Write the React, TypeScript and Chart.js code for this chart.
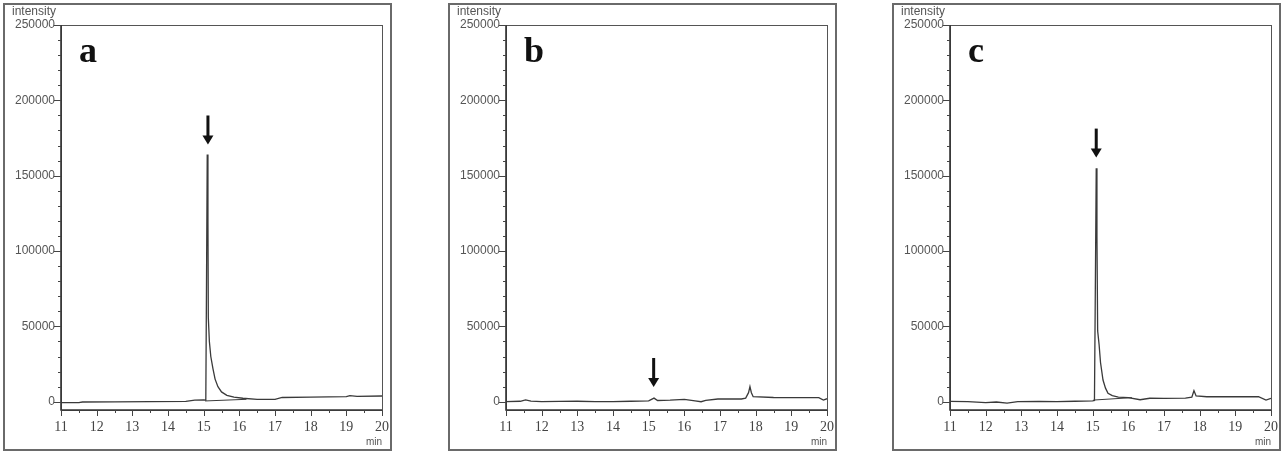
import React, { useEffect, useRef } from "react";
import { Chart, registerables } from "chart.js";

Chart.register(...registerables);

// ---- axis ticks ----
const xTickValues = [11, 11.5, 12, 12.5, 13, 13.5, 14, 14.5, 15, 15.5, 16, 16.5, 17, 17.5, 18, 18.5, 19, 19.5, 20];
const yTickValues = [
  0, 10000, 20000, 30000, 40000, 50000, 60000, 70000, 80000, 90000, 100000,
  110000, 120000, 130000, 140000, 150000, 160000, 170000, 180000, 190000, 200000,
  210000, 220000, 230000, 240000, 250000,
];
const yLabelStep = 50000;
const xMin = 11;
const xMax = 20;
const yMin = -5500;
const yMax = 250000;

// ---- panel a ----
const timeA = [11, 11.5, 11.6, 12.5, 13.5, 14.5, 14.75, 15.0, 15.06, 15.08, 15.1, 15.12, 15.13, 15.16, 15.2, 15.26, 15.32, 15.4, 15.5, 15.65, 15.85, 16.1, 16.5, 17.0, 17.2, 18.0, 19.0, 19.1, 19.3, 20];
const intensityA = [-600, -600, -200, -100, 0, 200, 1000, 1200, 1000, 80000, 164000, 120000, 56000, 40000, 30000, 22000, 15000, 10000, 6500, 4200, 3000, 2300, 1600, 1600, 2800, 3000, 3400, 4000, 3500, 3800];
const baseTimeA = [15.04, 16.2];
const baseIntA = [500, 1600];

// ---- panel b ----
const timeB = [11, 11.4, 11.55, 11.7, 12.0, 12.5, 13.0, 13.5, 14.0, 14.5, 15.0, 15.15, 15.25, 15.6, 16.0, 16.3, 16.47, 16.6, 16.94, 17.6, 17.72, 17.8, 17.84, 17.88, 17.93, 18.5, 19.77, 19.9, 20];
const intensityB = [0, 300, 1200, 400, 0, 200, 300, 100, 0, 300, 600, 2400, 800, 1000, 1500, 600, 0, 900, 1800, 1800, 2400, 6000, 10000, 6000, 3300, 2800, 2700, 1100, 2000];
const baseTimeB: number[] = [];
const baseIntB: number[] = [];

// ---- panel c ----
const timeC = [11, 11.5, 12.0, 12.3, 12.6, 12.9, 13.5, 14.0, 14.5, 15.0, 15.05, 15.07, 15.1, 15.12, 15.14, 15.18, 15.22, 15.29, 15.36, 15.43, 15.55, 15.72, 16.0, 16.33, 16.6, 17.0, 17.6, 17.78, 17.84, 17.9, 18.2, 19.65, 19.86, 20];
const intensityC = [200, 0, -600, -200, -900, 0, 200, 0, 300, 600, 800, 60000, 155000, 110000, 47000, 38000, 26000, 14400, 9000, 5600, 4000, 3000, 2700, 1300, 2300, 2200, 2400, 3000, 7300, 3800, 3300, 3300, 1100, 2200];
const baseTimeC = [15.02, 16.1];
const baseIntC = [1100, 2700];

// ---- annotations ----
const panelLetters = ["a", "b", "c"];
const arrowTimes = [15.12, 15.14, 15.1];
const arrowTips = [170700, 9770, 162000];
const yAxisTitle = "intensity";
const xAxisTitle = "min";

const panelTimes = [timeA, timeB, timeC];
const panelIntensities = [intensityA, intensityB, intensityC];
const panelBaseTimes = [baseTimeA, baseTimeB, baseTimeC];
const panelBaseInts = [baseIntA, baseIntB, baseIntC];

const PANEL_LEFTS = [3, 448, 892];
const PANEL_TOP = 3;
const PANEL_W = 389;
const PANEL_H = 448;
const BORDER = 2;

const LINE_COLOR = "#3a3a3a";

const decorPlugin = {
  id: "decor",
  afterDraw(chart: any, _args: any, opts: any) {
    const { ctx, chartArea: ca, scales } = chart;
    const xs = scales.x;
    const ys = scales.y;
    ctx.save();

    // plot box
    ctx.strokeStyle = "#555";
    ctx.lineWidth = 1;
    ctx.strokeRect(ca.left + 0.5, ca.top + 0.5, ca.right - ca.left, ca.bottom - ca.top);
    ctx.strokeStyle = "#333";
    ctx.lineWidth = 1.6;
    ctx.beginPath();
    ctx.moveTo(ca.left, ca.top);
    ctx.lineTo(ca.left, ca.bottom);
    ctx.lineTo(ca.right, ca.bottom);
    ctx.stroke();

    // y ticks
    ctx.lineWidth = 1;
    ctx.strokeStyle = "#444";
    ctx.beginPath();
    yTickValues.forEach((v) => {
      const py = Math.round(ys.getPixelForValue(v)) + 0.5;
      const major = v % yLabelStep === 0;
      ctx.moveTo(ca.left - (major ? 7 : 3), py);
      ctx.lineTo(ca.left, py);
    });
    // x ticks
    xTickValues.forEach((v) => {
      const px = Math.round(xs.getPixelForValue(v)) + 0.5;
      const major = Number.isInteger(v);
      ctx.moveTo(px, ca.bottom);
      ctx.lineTo(px, ca.bottom + (major ? 6 : 3));
    });
    ctx.stroke();

    // axis titles
    ctx.fillStyle = "#555";
    ctx.font = "12px 'Liberation Sans'";
    ctx.textAlign = "left";
    ctx.textBaseline = "middle";
    ctx.fillText(yAxisTitle, 7, 7);
    ctx.font = "10px 'Liberation Sans'";
    ctx.textAlign = "right";
    ctx.fillText(xAxisTitle, ca.right, 437);

    // panel letter
    ctx.fillStyle = "#111";
    ctx.font = "bold 36px 'Liberation Serif'";
    ctx.textAlign = "left";
    ctx.textBaseline = "alphabetic";
    ctx.fillText(opts.letter, ca.left + 18, ca.top + 37);

    // arrow
    const ax = xs.getPixelForValue(opts.arrowTime);
    const ay = ys.getPixelForValue(opts.arrowTip);
    ctx.fillStyle = "#111";
    ctx.fillRect(ax - 1.5, ay - 29, 3, 21);
    ctx.beginPath();
    ctx.moveTo(ax - 5.5, ay - 9);
    ctx.lineTo(ax + 5.5, ay - 9);
    ctx.lineTo(ax, ay);
    ctx.closePath();
    ctx.fill();

    ctx.restore();
  },
};

function Panel({ idx }: { idx: number }) {
  const ref = useRef<HTMLCanvasElement | null>(null);
  useEffect(() => {
    if (!ref.current) return;
    const trace = panelTimes[idx].map((t, i) => ({ x: t, y: panelIntensities[idx][i] }));
    const base = panelBaseTimes[idx].map((t, i) => ({ x: t, y: panelBaseInts[idx][i] }));
    const chart = new Chart(ref.current, {
      type: "line",
      data: {
        datasets: [
          { data: trace, borderColor: LINE_COLOR, borderWidth: 1.3, pointRadius: 0, tension: 0, fill: false },
          { data: base, borderColor: LINE_COLOR, borderWidth: 1, pointRadius: 0, tension: 0, fill: false },
        ],
      },
      options: {
        animation: false,
        responsive: false,
        devicePixelRatio: 1,
        layout: { padding: { left: 6, top: 20, right: 8, bottom: 0 } },
        plugins: {
          legend: { display: false },
          tooltip: { enabled: false },
          decor: { letter: panelLetters[idx], arrowTime: arrowTimes[idx], arrowTip: arrowTips[idx] },
        } as any,
        scales: {
          x: {
            type: "linear",
            min: xMin,
            max: xMax,
            afterBuildTicks: (s: any) => {
              s.ticks = xTickValues.map((v) => ({ value: v }));
            },
            afterFit: (s: any) => {
              s.height = 39;
              s.paddingLeft = 0;
              s.paddingRight = 0;
            },
            grid: { display: false, drawTicks: false },
            border: { display: false },
            ticks: {
              autoSkip: false,
              maxRotation: 0,
              minRotation: 0,
              padding: 9,
              color: "#444",
              font: { family: "'Liberation Serif'", size: 14 },
              callback: (v: any) => (Number.isInteger(Number(v)) ? String(v) : ""),
            },
          },
          y: {
            type: "linear",
            min: yMin,
            max: yMax,
            afterBuildTicks: (s: any) => {
              s.ticks = yTickValues.map((v) => ({ value: v }));
            },
            afterFit: (s: any) => {
              s.width = 50;
              s.paddingTop = 0;
              s.paddingBottom = 0;
            },
            grid: { display: false, drawTicks: false },
            border: { display: false },
            ticks: {
              autoSkip: false,
              padding: 6,
              color: "#555",
              font: { family: "'Liberation Sans'", size: 12 },
              callback: (v: any) => (Number(v) % yLabelStep === 0 ? String(v) : ""),
            },
          },
        },
      } as any,
      plugins: [decorPlugin as any],
    });
    return () => chart.destroy();
  }, [idx]);

  return (
    <div
      style={{
        position: "absolute",
        left: PANEL_LEFTS[idx],
        top: PANEL_TOP,
        width: PANEL_W,
        height: PANEL_H,
        boxSizing: "border-box",
        border: `${BORDER}px solid #6a6a6a`,
        background: "#fff",
      }}
    >
      <canvas
        ref={ref}
        width={PANEL_W - 2 * BORDER}
        height={PANEL_H - 2 * BORDER}
        style={{ position: "absolute", left: 0, top: 0, display: "block" }}
      />
    </div>
  );
}

export default function App() {
  return (
    <div style={{ position: "absolute", left: 0, top: 0, width: 1281, height: 454, background: "#fff" }}>
      {[0, 1, 2].map((i) => (
        <Panel key={i} idx={i} />
      ))}
    </div>
  );
}
